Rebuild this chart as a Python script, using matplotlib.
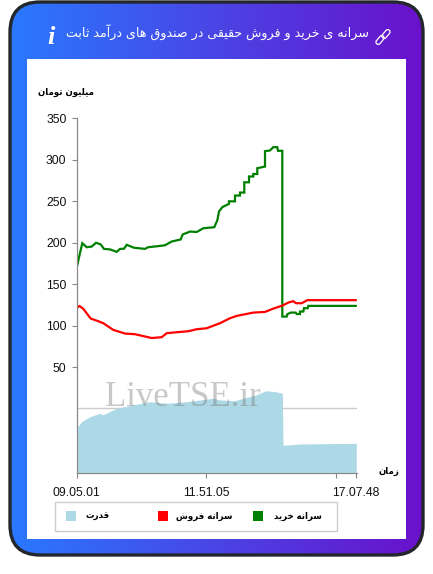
import numpy as np
import matplotlib
matplotlib.use('Agg')
import matplotlib.pyplot as plt
from matplotlib.patches import FancyBboxPatch, Rectangle
from matplotlib.transforms import Affine2D

W, H = 433, 574

TITLE = 'سرانه ی خرید و فروش حقیقی در صندوق های درآمد ثابت'
Y_LABEL = 'میلیون تومان'
X_LABEL = 'زمان'
LEGEND_LABELS = ['قدرت', 'سرانه فروش', 'سرانه خرید']
LEGEND_COLORS = ['#add8e6', '#ff0000', '#008000']

Y_TICKS = [50, 100, 150, 200, 250, 300, 350]
X_TICKS = [0, 129.5, 259.5, 279.5]
X_TICK_LABELS = ['09.05.01', '11.51.05', '', '17.07.48']

buy_x = [0.8, 3, 5.8, 10.2, 15.2, 19.5, 24.2, 27.5, 33.5, 40.2, 43.5, 47.5, 50.2, 57.5, 68.5, 71.5, 81.5,
         88.5, 95.2, 104.2, 106.2, 113.5, 120.2, 126.8, 137.8, 140.8, 142.5, 145.8, 152.5, 152.5, 158.5, 158.5,
         163.5, 163.5, 167.8, 167.8, 172.5, 172.5, 176.8, 176.8, 180.8, 180.8, 188.5, 188.5, 193.5, 196.8, 200.8,
         201.5, 205.8, 205.8, 210.2, 210.8, 214.2, 219.2, 220.2, 223.5, 223.5, 226.8, 227.5, 231.2, 231.8, 279.2]
buy_y = [173, 185, 199.5, 194.6, 195.4, 200, 198, 192.6, 192, 189, 192.6, 192.8, 197.5, 194, 192.6, 194.6, 195.9,
         197, 201.5, 204, 210, 213.5, 213, 217.5, 218.8, 227, 237.7, 243, 247, 250, 250, 257,
         257, 260.6, 260.6, 273, 273, 280, 280, 283, 283, 290, 292, 310.6, 311.4, 315.4, 315.4,
         311, 311, 110.9, 110.9, 113.7, 115.7, 115.7, 114, 114, 117, 117, 121, 121, 123.8, 123.8]

sell_x = [0.8, 2.8, 6.8, 14.2, 20.2, 26.8, 36.8, 48.5, 58.5, 75.2, 85.2, 90.2, 100.2, 111.8, 120.2, 130.2,
          143.5, 153.5, 160.2, 176.8, 188.5, 196.8, 205.8, 211.8, 216.8, 219.5, 225.2, 230.8, 279.2]
sell_y = [121.8, 123.8, 120.2, 108.5, 106, 102.9, 94.8, 90.4, 89.6, 85, 86, 90.8, 92, 93.2, 95.6, 96.8,
          102.9, 108.9, 111.7, 115.7, 116.5, 120.5, 124.1, 127.8, 129.5, 127, 127, 130.7, 130.7]

power_x = [0, 5, 13.5, 23.5, 26.5, 40, 56.5, 73.5, 90, 110, 136.5, 143.5, 158, 179.5, 189.5, 199.5, 205.8,
           206.5, 223.5, 279.8]
power_y = [45, 51.6, 56.6, 60, 58.5, 65, 68.3, 71.6, 70, 71.6, 75, 73.3, 72.6, 78.3, 82.6, 81.5, 80,
           28, 29.3, 30]

FORMS = {
    'ا': 'ﺍﺎ', 'آ': 'ﺁﺂ', 'د': 'ﺩﺪ', 'ر': 'ﺭﺮ', 'ز': 'ﺯﺰ', 'و': 'ﻭﻮ',
    'ب': 'ﺏﺐﺑﺒ', 'ت': 'ﺕﺖﺗﺘ', 'ث': 'ﺙﺚﺛﺜ', 'ح': 'ﺡﺢﺣﺤ', 'خ': 'ﺥﺦﺧﺨ',
    'س': 'ﺱﺲﺳﺴ', 'ش': 'ﺵﺶﺷﺸ', 'ص': 'ﺹﺺﺻﺼ', 'ف': 'ﻑﻒﻓﻔ', 'ق': 'ﻕﻖﻗﻘ',
    'ل': 'ﻝﻞﻟﻠ', 'م': 'ﻡﻢﻣﻤ', 'ن': 'ﻥﻦﻧﻨ', 'ه': 'ﻩﻪﻫﻬ', 'ی': 'ﯼﯽﯾﯿ',
}


def shape(text):
    # matplotlib does no arabic shaping, so pick the joined glyphs and reverse
    out = []
    for i, c in enumerate(text):
        if c not in FORMS:
            out.append(c)
            continue
        prev = text[i - 1] if i > 0 else ' '
        nxt = text[i + 1] if i < len(text) - 1 else ' '
        after_join = prev in FORMS and len(FORMS[prev]) == 4
        before_join = nxt in FORMS and len(FORMS[c]) == 4
        if after_join and before_join:
            out.append(FORMS[c][3])
        elif before_join:
            out.append(FORMS[c][2])
        elif after_join:
            out.append(FORMS[c][1])
        else:
            out.append(FORMS[c][0])
    return ''.join(out)[::-1]


fig = plt.figure(figsize=(W / 100, H / 100), dpi=100, facecolor='white')

bg = fig.add_axes([0, 0, 1, 1])
bg.set_xlim(0, W)
bg.set_ylim(H, 0)
bg.axis('off')

frame = FancyBboxPatch((10, 2), 413, 553, boxstyle='round,pad=0,rounding_size=30',
                       fc='none', ec='#23262b', lw=2.4, zorder=3)
bg.add_patch(frame)
grad = np.linspace(0, 1, 256).reshape(1, -1, 1)
left = np.array([0x29, 0x79, 0xff]).reshape(1, 1, 3) / 255
right = np.array([0x6a, 0x11, 0xcb]).reshape(1, 1, 3) / 255
im = bg.imshow(left * (1 - grad) + right * grad, extent=(10, 423, 555, 2), aspect='auto', zorder=1)
im.set_clip_path(frame)
bg.set_xlim(0, W)
bg.set_ylim(H, 0)
bg.add_patch(Rectangle((27, 59), 379, 480, fc='white', ec='none', zorder=2))

bg.text(369, 33, shape(TITLE), color='white', fontsize=9.1, ha='right', va='center', zorder=4)
bg.text(51, 37, 'i', color='white', fontsize=19, family='Liberation Serif', weight='bold', style='italic',
        ha='center', va='center', zorder=4)

# chain icon
for dx in (-3, 3):
    rot = Affine2D().rotate_deg_around(383 + dx, 37 - dx, -50) + bg.transData
    bg.add_patch(FancyBboxPatch((383 + dx - 5, 37 - dx - 2.3), 10, 4.6, boxstyle='round,pad=0,rounding_size=2.3',
                                fc='none', ec='white', lw=0.9, transform=rot, zorder=4))

bg.text(94, 92, shape(Y_LABEL), fontsize=6.2, weight='bold', color='black', ha='right', va='center', zorder=4)
bg.text(399, 471, shape(X_LABEL), fontsize=6.2, weight='bold', color='black', ha='right', va='center', zorder=4)

# legend
bg.add_patch(Rectangle((54.5, 501.5), 282, 29, fc='white', ec='#cccccc', lw=1, zorder=3))
swatch_x = [66, 158, 253]
label_x = [110, 233, 322]
for sx, lx, name, col in zip(swatch_x, label_x, LEGEND_LABELS, LEGEND_COLORS):
    bg.add_patch(Rectangle((sx, 511), 10, 10, fc=col, ec='none', zorder=4))
    bg.text(lx, 516, shape(name), fontsize=6.2, weight='bold', color='black', ha='right', va='center', zorder=4)

ax = fig.add_axes([76.5 / W, 1 - 473.3 / H, 280 / W, 354.8 / H])
ax.patch.set_visible(False)
ax.set_xlim(0, 280)
ax.set_ylim(-78.3, 350)
ax.axhline(0, color='#cccccc', lw=1)
ax.plot(buy_x, buy_y, color='#008000', lw=1.6, solid_joinstyle='miter', zorder=3)
ax.plot(sell_x, sell_y, color='#ff0000', lw=1.6, zorder=3)

ax.spines['top'].set_visible(False)
ax.spines['right'].set_visible(False)
ax.spines['left'].set_color('#888888')
ax.spines['bottom'].set_color('#888888')
ax.set_yticks(Y_TICKS)
ax.set_xticks(X_TICKS)
ax.set_xticklabels(X_TICK_LABELS)
ax.tick_params(axis='both', color='#888888', length=3.6, width=0.8, pad=3.6,
               labelsize=8.7, labelcolor='#111111')
ax.tick_params(axis='x', pad=6.1)
for t in ax.get_xticklabels() + ax.get_yticklabels():
    t.set_family('Liberation Sans')

power_ax = ax.twinx()
power_ax.set_ylim(0, 354.8)
power_ax.fill_between(power_x, power_y, 0, color='#add8e6', lw=0)
power_ax.set_yticks([])
power_ax.spines['top'].set_visible(False)
power_ax.spines['right'].set_visible(False)
power_ax.spines['left'].set_color('#888888')
power_ax.spines['bottom'].set_color('#888888')

fig.text(182.5 / W, 1 - 397 / H, 'LiveTSE.ir', family='Liberation Serif', fontsize=25, color='#777777',
         alpha=0.4, ha='center', va='center', zorder=10)

fig.savefig('out.png', dpi=100)
